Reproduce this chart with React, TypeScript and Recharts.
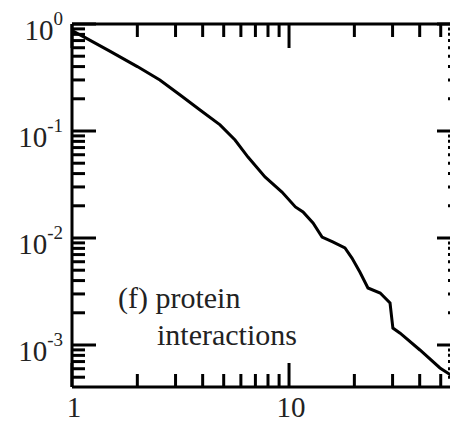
import React from 'react'
import { LineChart, Line, XAxis, YAxis } from 'recharts'

// cumulative degree distribution, protein interaction network
const degree = [1, 1.15, 1.5, 2, 2.54, 3.15, 3.89, 4.81, 5.64, 6.47, 7.75, 9.28, 10.7, 11.6, 12.9, 14.2, 15.9, 18.1, 19.5, 21.2, 23.1, 26.3, 29.2, 30.1, 32.5, 40.1, 49.6, 56]
const prob = [0.87, 0.745, 0.555, 0.4, 0.3, 0.217, 0.157, 0.114, 0.0824, 0.0571, 0.0372, 0.0269, 0.0195, 0.0175, 0.0138, 0.0102, 0.00918, 0.00807, 0.0065, 0.00481, 0.00341, 0.00306, 0.00247, 0.00144, 0.00129, 0.000898, 0.00061, 0.00052]

const xTicks = [1, 2, 3, 4, 5, 6, 7, 8, 9, 10, 20, 30, 40, 50, 60]
const yTicks = [
  0.0005, 0.0006, 0.0007, 0.0008, 0.0009,
  0.001, 0.002, 0.003, 0.004, 0.005, 0.006, 0.007, 0.008, 0.009,
  0.01, 0.02, 0.03, 0.04, 0.05, 0.06, 0.07, 0.08, 0.09,
  0.1, 0.2, 0.3, 0.4, 0.5, 0.6, 0.7, 0.8, 0.9, 1,
]
const xLabels = [1, 10]

const rows = degree.map((k, i) => ({ k, p: prob[i] }))

const FONT = '"Liberation Serif", "DejaVu Serif", serif'
const X_DOMAIN = [1, 62]
const Y_DOMAIN = [4.05e-4, 1]
const MAJOR = 24
const MINOR = 13

const frame = { stroke: '#000', strokeWidth: 3 }
const tickStroke = { stroke: '#000', strokeWidth: 3 }

const isDecade = (v: number) => Math.abs(Math.log10(v) - Math.round(Math.log10(v))) < 1e-9

// tickLine draws every tick MINOR px inward; decades get the extra length here.
// tickMargin === MINOR puts the tick props back on the axis line.
const ext = (x: number, y: number, dx: number, dy: number) => (
  <path d={`M${x + dx * MINOR},${y + dy * MINOR}L${x + dx * MAJOR},${y + dy * MAJOR}`} stroke="#000" strokeWidth={3} fill="none" />
)

const BottomTick = (props: any) => {
  const x = Number(props.x)
  const y = Number(props.y)
  const v = Number(props.payload.value)
  return (
    <g>
      {isDecade(v) && ext(x, y, 0, -1)}
      {xLabels.includes(v) && (
        <text x={x + 2} y={y + 30} textAnchor="middle" fontFamily={FONT} fontSize={29} fill="#222" stroke="none">
          {v}
        </text>
      )}
    </g>
  )
}

const TopTick = (props: any) => {
  const v = Number(props.payload.value)
  return <g>{isDecade(v) && ext(Number(props.x), Number(props.y), 0, 1)}</g>
}

const LeftTick = (props: any) => {
  const x = Number(props.x)
  const y = Number(props.y)
  const v = Number(props.payload.value)
  const exp = Math.round(Math.log10(v))
  return (
    <g>
      {isDecade(v) && ext(x, y, 1, 0)}
      {isDecade(v) && (
        <text x={x - 9} y={y + 16} textAnchor="end" fontFamily={FONT} fontSize={29} fill="#222" stroke="none">
          10<tspan dy={-15} fontSize={19}>{exp === 0 ? '0' : `-${-exp}`}</tspan>
        </text>
      )}
    </g>
  )
}

const RightTick = (props: any) => {
  const v = Number(props.payload.value)
  return <g>{isDecade(v) && ext(Number(props.x), Number(props.y), -1, 0)}</g>
}

const common = { type: 'number' as const, scale: 'log' as const, allowDataOverflow: true, interval: 0 as const }

export default function App() {
  return (
    <div style={{ position: 'fixed', left: 0, top: 0, width: 450, height: 422, overflow: 'hidden', background: '#fff' }}>
      <LineChart width={462} height={422} data={rows} margin={{ top: 0, right: 0, bottom: 0, left: 0 }}>
        <XAxis {...common} xAxisId="bm" dataKey="k" domain={X_DOMAIN} tick={false} tickLine={false} axisLine={false} height={0} />
        <XAxis {...common} xAxisId="b" dataKey="k" domain={X_DOMAIN} ticks={xTicks} tick={BottomTick} tickLine={tickStroke} tickSize={-MINOR} tickMargin={MINOR} axisLine={frame} height={35} />
        <XAxis {...common} xAxisId="tm" orientation="top" dataKey="k" domain={X_DOMAIN} tick={false} tickLine={false} axisLine={false} height={0} />
        <XAxis {...common} xAxisId="t" orientation="top" dataKey="k" domain={X_DOMAIN} ticks={xTicks} tick={TopTick} tickLine={tickStroke} tickSize={-MINOR} tickMargin={MINOR} axisLine={frame} height={24} />
        <YAxis {...common} yAxisId="lm" domain={Y_DOMAIN} tick={false} tickLine={false} axisLine={false} width={0} />
        <YAxis {...common} yAxisId="l" domain={Y_DOMAIN} ticks={yTicks} tick={LeftTick} tickLine={tickStroke} tickSize={-MINOR} tickMargin={MINOR} axisLine={frame} width={72} />
        <YAxis {...common} yAxisId="rm" orientation="right" domain={Y_DOMAIN} tick={false} tickLine={false} axisLine={false} width={0} />
        <YAxis {...common} yAxisId="r" orientation="right" domain={Y_DOMAIN} ticks={yTicks} tick={RightTick} tickLine={tickStroke} tickSize={-MINOR} tickMargin={MINOR} axisLine={frame} width={1} />
        <Line xAxisId="b" yAxisId="l" dataKey="p" type="linear" stroke="#000" strokeWidth={3} dot={false} isAnimationActive={false} />
        {/* invisible copies keep the other axes bound to data */}
        <Line xAxisId="t" yAxisId="r" dataKey="p" stroke="none" dot={false} isAnimationActive={false} legendType="none" />
        <Line xAxisId="bm" yAxisId="lm" dataKey="p" stroke="none" dot={false} isAnimationActive={false} legendType="none" />
        <Line xAxisId="tm" yAxisId="rm" dataKey="p" stroke="none" dot={false} isAnimationActive={false} legendType="none" />
      </LineChart>
      <svg width={450} height={422} style={{ position: 'absolute', left: 0, top: 0, pointerEvents: 'none' }}>
        <text x={118} y={308} fontFamily={FONT} fontSize={30} fill="#222">(f) protein</text>
        <text x={157} y={345} fontFamily={FONT} fontSize={30} fill="#222">interactions</text>
      </svg>
    </div>
  )
}
